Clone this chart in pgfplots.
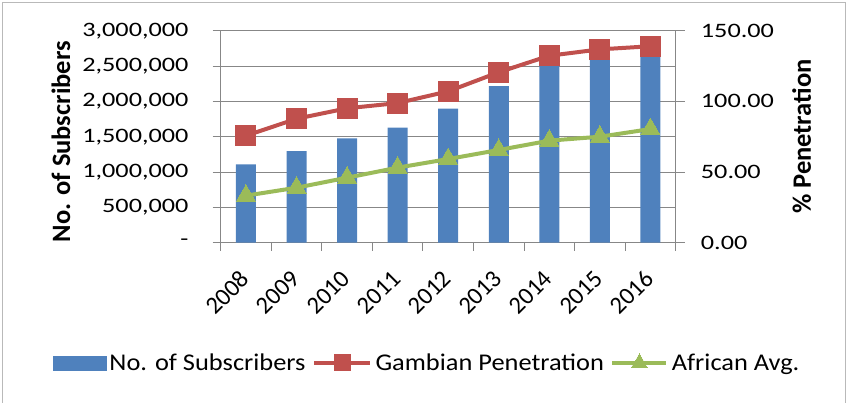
\documentclass[border=0pt]{standalone}
\usepackage{pgfplots}
\pgfplotsset{compat=1.18}
\usepackage{fontspec}
\setmainfont{Carlito}
\newfontfamily\tickfont{Carlito}[FakeStretch=1.28]
\newfontfamily\legfont{Carlito}[FakeStretch=1.1]
\definecolor{barblue}{HTML}{4F81BD}
\definecolor{linered}{HTML}{C0504D}
\definecolor{linegreen}{HTML}{9BBB59}
\definecolor{gridgray}{HTML}{878787}

\pgfplotsset{
  legred/.style={legend image code/.code={\draw[mark repeat=2,mark phase=2,##1, mark size=8pt] plot coordinates {(0pt,0pt) (28pt,0pt) (56pt,0pt)};}},
  leggreen/.style={legend image code/.code={\draw[mark repeat=2,mark phase=2,##1, mark size=9pt] plot coordinates {(0pt,0pt) (27pt,0pt) (54pt,0pt)};}},
  legbar/.style={legend image code/.code={\fill[barblue] (0pt,-7pt) rectangle (53pt,7pt);}},
}

\pgfplotstableread{
x subs gambia africa
0 1110000 75.7 33.3
1 1297000 87.7 38.9
2 1477000 95.1 46.0
3 1627000 98.8 53.1
4 1896000 107.1 59.2
5 2217000 120.6 65.6
6 2530000 132.3 72.2
7 2650000 136.8 75.0
8 2750000 139.0 80.4
}\data

\begin{document}
\begin{tikzpicture}
\path[use as bounding box] (-220.7pt,-159.3pt) rectangle (630.3pt,242.7pt);
\draw[gray!55, line width=1pt] (-218.2pt,-170pt) -- (-218.2pt,240.2pt) -- (624.3pt,240.2pt) -- (624.3pt,-170pt);
\begin{axis}[
  at={(0pt,0pt)}, anchor=south west,
  width=455pt, height=212pt, scale only axis,
  xmin=-0.5, xmax=8.5, ymin=0, ymax=3000000,
  axis x line*=bottom, axis y line*=left,
  axis line style={gridgray, line width=1pt, -},
  xtick={0,...,8},
  xticklabels={2008,2009,2010,2011,2012,2013,2014,2015,2016},
  minor xtick={-0.5,0.5,...,8.5},
  tick align=outside,
  major x tick style={draw=none},
  minor tick length=8pt, major tick length=8pt,
  every tick/.style={gridgray, line width=1pt},
  ytick={0,500000,1000000,1500000,2000000,2500000,3000000},
  yticklabels={{-\hspace{11pt}},{500,000},{1,000,000},{1,500,000},{2,000,000},{2,500,000},{3,000,000}},
  scaled y ticks=false,
  ymajorgrids, grid style={gridgray, line width=1pt},
  yticklabel style={font=\tickfont\fontsize{20.5}{24}\selectfont, inner sep=0pt, anchor=east, xshift=-24pt},
  xticklabel style={font=\fontsize{24.5}{28}\selectfont, xshift=-1pt, yshift=-24pt, rotate=45, anchor=east, inner sep=0pt},
  ylabel={No. of Subscribers},
  every axis y label/.style={at={(axis description cs:-0.351,0.476)}, rotate=90, anchor=center, font=\bfseries\fontsize{26.5}{30}\selectfont},
  clip=false,
]
\addplot[ybar, bar width=20pt, fill=barblue, draw=none] table[x=x, y=subs] {\data};
\end{axis}
\begin{axis}[
  at={(0pt,0pt)}, anchor=south west,
  width=455pt, height=212pt, scale only axis,
  xmin=-0.5, xmax=8.5, ymin=0, ymax=150,
  axis x line=none, axis y line*=right,
  axis line style={gridgray, line width=1pt, -},
  tick align=outside, major tick length=9pt,
  every tick/.style={gridgray, line width=1pt},
  ytick={0,50,100,150},
  yticklabels={0.00,50.00,100.00,150.00},
  yticklabel style={font=\tickfont\fontsize{20.5}{24}\selectfont, inner sep=0pt, anchor=west, xshift=16pt},
  ylabel={\% Penetration},
  every axis y label/.style={at={(axis description cs:1.277,0.5)}, rotate=90, anchor=center, font=\bfseries\fontsize{26.5}{30}\selectfont},
  clip=false,
  legend style={at={(axis description cs:0.455,-0.567)}, anchor=center, draw=none, fill=none,
    font=\legfont\fontsize{24}{28}\selectfont, inner sep=0pt,
    nodes={inner sep=3.5pt},
    /tikz/every even column/.append style={column sep=3pt}},
  legend columns=3,
  legend cell align=left,
]
\addlegendimage{legbar}
\addlegendentry{No. of Subscribers}
\addplot[color=linered, line width=4pt, mark=square*, mark size=10pt, mark options={solid, line width=0pt}, legred]
  table[x=x, y=gambia] {\data};
\addlegendentry{Gambian Penetration}
\addplot[color=linegreen, line width=4pt, mark=triangle*, mark size=11pt, mark options={solid, line width=0pt}, leggreen]
  table[x=x, y=africa] {\data};
\addlegendentry{African Avg.}
\end{axis}
\end{tikzpicture}
\end{document}
